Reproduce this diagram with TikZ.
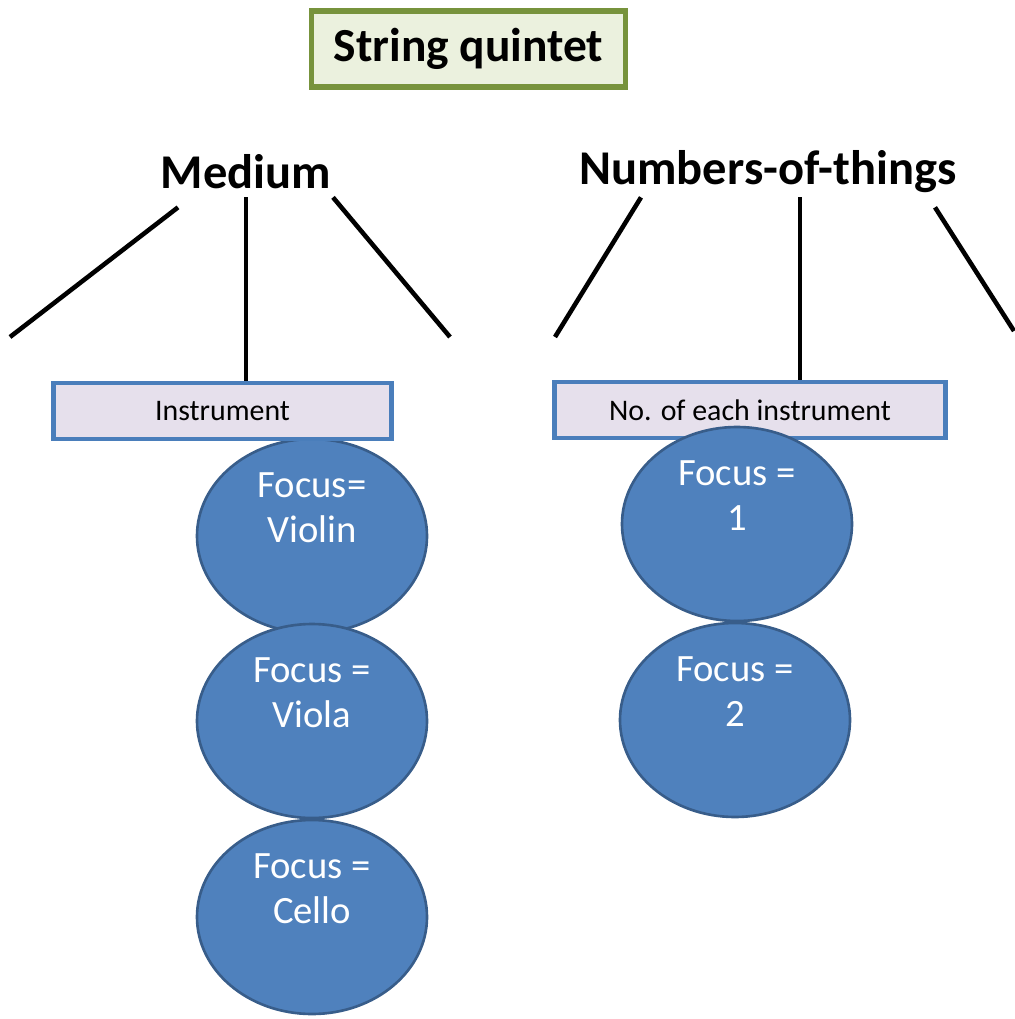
\documentclass[tikz,border=0pt]{standalone}
\usepackage{fontspec}
\setmainfont{Carlito}
\usepackage{xcolor}
\usetikzlibrary{shapes.geometric}

\definecolor{olivebd}{HTML}{77933C}
\definecolor{olivefill}{HTML}{EBF1DE}
\definecolor{boxbd}{HTML}{4A7EBB}
\definecolor{boxfill}{HTML}{E6E0EC}
\definecolor{focusfill}{HTML}{4F81BD}
\definecolor{focusbd}{HTML}{385D8A}

\tikzset{
  title/.style = {draw=olivebd, fill=olivefill, line width=3.4pt,
                  minimum width=6.28cm, minimum height=1.53cm,
                  font=\fontsize{27}{30}\selectfont\bfseries},
  heading/.style = {inner sep=0pt, minimum height=1cm,
                  font=\fontsize{27.6}{30}\selectfont\bfseries},
  leg/.style = {line width=2.6pt},
  facet/.style = {draw=boxbd, fill=boxfill, line width=2.5pt,
                  minimum height=1.12cm, inner sep=0pt,
                  font=\fontsize{17}{20}\selectfont},
  focus/.style = {ellipse, draw=focusbd, fill=focusfill, line width=1.5pt,
                  minimum width=4.6cm, minimum height=3.88cm, inner sep=0pt,
                  label={[focustext, yshift=0.57cm]center:{#1}}},
  focustext/.style = {text=white, align=center,
                  font=\fontsize{22}{25.6}\selectfont}
}

\begin{document}
\begin{tikzpicture}
        \useasboundingbox (0,0) rectangle (20.28,-20.38);

        % title
        \node[title] (quintet) at (9.37,-0.98) {String quintet};

        % the two dimensions
        \node[heading] (medium) at (4.92,-3.44) {Medium};
        \node[heading] (numbers) at (15.36,-3.44) {Numbers-of-things};

        % foci under Instrument (box goes on top of them)
        \node[focus={Focus=\\Violin}] (violin) at (6.24,-10.72) {};
        \node[focus={Focus =\\Viola}] (viola) at (6.24,-14.42) {};
        \node[focus={Focus =\\Cello}] (cello) at (6.24,-18.34) {};

        % facet boxes
        \node[facet, minimum width=6.76cm] (instr) at (4.45,-8.22) {Instrument};
        \node[facet, minimum width=7.82cm] (count) at (15.0,-8.2) {No. of each instrument};

        % foci under No. of each instrument (on top of the box)
        \node[focus={Focus =\\1}] (one) at (14.74,-10.48) {};
        \node[focus={Focus =\\2}] (two) at (14.70,-14.40) {};

        % free ends of the outer legs
        \coordinate (mleft) at (0.2,-6.74);
        \coordinate (mright) at (9.0,-6.74);
        \coordinate (nleft) at (11.1,-6.74);
        \coordinate (nright) at (20.28,-6.62);

        % legs under Medium
        \draw[leg] ([xshift=-1.36cm,yshift=-0.2cm]medium.south) -- (mleft);
        \draw[leg] (medium.south) -- (medium.south |- instr.north);
        \draw[leg] ([xshift=1.74cm]medium.south) -- (mright);

        % legs under Numbers-of-things
        \draw[leg] ([xshift=-2.54cm]numbers.south) -- (nleft);
        \draw[leg] ([xshift=0.64cm]numbers.south) -- ([xshift=0.64cm]numbers.south |- count.north);
        \draw[leg] ([xshift=3.34cm,yshift=-0.2cm]numbers.south) -- (nright);
\end{tikzpicture}
\end{document}
